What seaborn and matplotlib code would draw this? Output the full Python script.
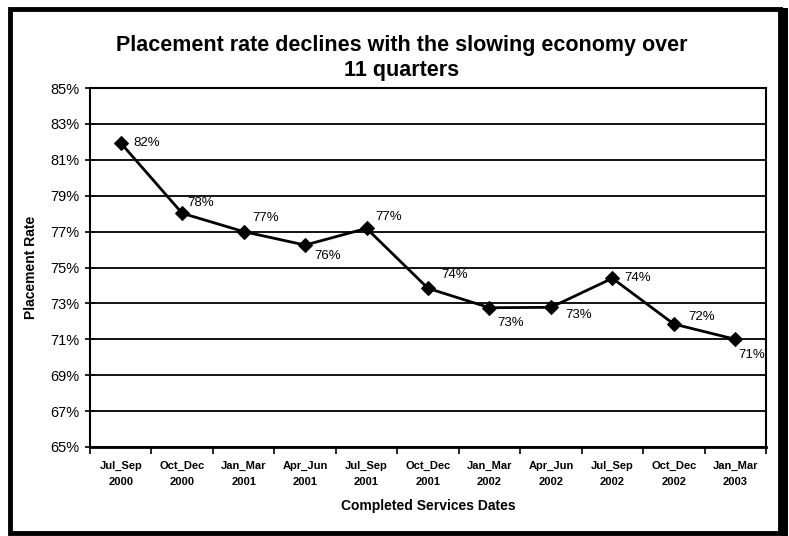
import matplotlib
matplotlib.use("Agg")
import matplotlib.pyplot as plt
import seaborn as sns
import pandas as pd
import numpy as np
from matplotlib.patches import Rectangle
from matplotlib.ticker import FixedLocator

quarters = ["Jul_Sep\n2000", "Oct_Dec\n2000", "Jan_Mar\n2001", "Apr_Jun\n2001",
            "Jul_Sep\n2001", "Oct_Dec\n2001", "Jan_Mar\n2002", "Apr_Jun\n2002",
            "Jul_Sep\n2002", "Oct_Dec\n2002", "Jan_Mar\n2003"]
rates = [81.94, 78.02, 77.0, 76.25, 77.18, 73.84, 72.76, 72.78, 74.4, 71.85, 71.0]
yticks = [65, 67, 69, 71, 73, 75, 77, 79, 81, 83, 85]

# label offsets in pixels (dx, dy up)
label_offsets = [(13, 0), (5, 10), (9, 14), (9, -11), (9, 11), (13, 13),
                 (8, -15), (14, -8), (12, 0), (14, 7), (3, -16)]

sns.set_theme(style="white")
plt.rcParams['font.family'] = ['Liberation Sans', 'DejaVu Sans']
plt.rcParams['text.color'] = 'black'
plt.rcParams['axes.labelcolor'] = 'black'
plt.rcParams['xtick.color'] = 'black'
plt.rcParams['ytick.color'] = 'black'

fig = plt.figure(figsize=(7.89, 5.36), dpi=100)
ax = fig.add_axes([90/789, 1 - 447/536, (766 - 90)/789, (447 - 88)/536])

df = pd.DataFrame({"quarter": quarters, "rate": rates, "idx": np.arange(len(quarters))})
sns.lineplot(data=df, x="idx", y="rate", ax=ax, color="black", linewidth=2.0,
             marker="D", markersize=7, markeredgecolor="black", markerfacecolor="black")

for i, (v, (dx, dy)) in enumerate(zip(rates, label_offsets)):
    ax.annotate(f"{round(v):d}%", (i, v), xytext=(dx, dy), textcoords="offset pixels",
                ha="left", va="center", fontsize=9.5, color="black")

ax.set_xlim(-0.5, len(quarters) - 0.5)
ax.set_ylim(65, 85)
ax.set_yticks(yticks)
ax.set_yticklabels([f"{t}%" for t in yticks], fontsize=10.5)
ax.yaxis.grid(True, color="black", linewidth=1.3)
ax.set_axisbelow(True)
ax.tick_params(axis="y", direction="inout", length=7, width=1.2, color="black", pad=4, left=True)

ax.set_xticks(range(len(quarters)))
ax.set_xticklabels(quarters, fontsize=8, fontweight="bold", linespacing=1.7)
ax.tick_params(axis="x", which="major", length=0, pad=10)
ax.xaxis.set_minor_locator(FixedLocator(np.arange(-0.5, len(quarters), 1.0)))
ax.tick_params(axis="x", which="minor", direction="out", length=5, width=1.2, color="black", bottom=True)

for s in ax.spines.values():
    s.set_color("black")
    s.set_linewidth(1.5)
ax.spines["bottom"].set_linewidth(2.0)

ax.set_xlabel("Completed Services Dates", fontsize=10, fontweight="bold", labelpad=9)
ax.set_ylabel("Placement Rate", fontsize=10, fontweight="bold", labelpad=9)
fig.text(402/789, 1 - 58/536, "Placement rate declines with the slowing economy over\n11 quarters",
         ha="center", va="center", fontsize=15.5, fontweight="bold", linespacing=1.2)

# figure frame with shadow
fig.patches.append(Rectangle((781/789, 0), 7/789, 1 - 8/536, transform=fig.transFigure,
                             facecolor="black", edgecolor="none"))
fig.patches.append(Rectangle((10/789, 3/536), (780 - 10)/789, (530 - 6)/536, transform=fig.transFigure,
                             facecolor="none", edgecolor="black", linewidth=3.5))

fig.savefig("out.png", dpi=100)
